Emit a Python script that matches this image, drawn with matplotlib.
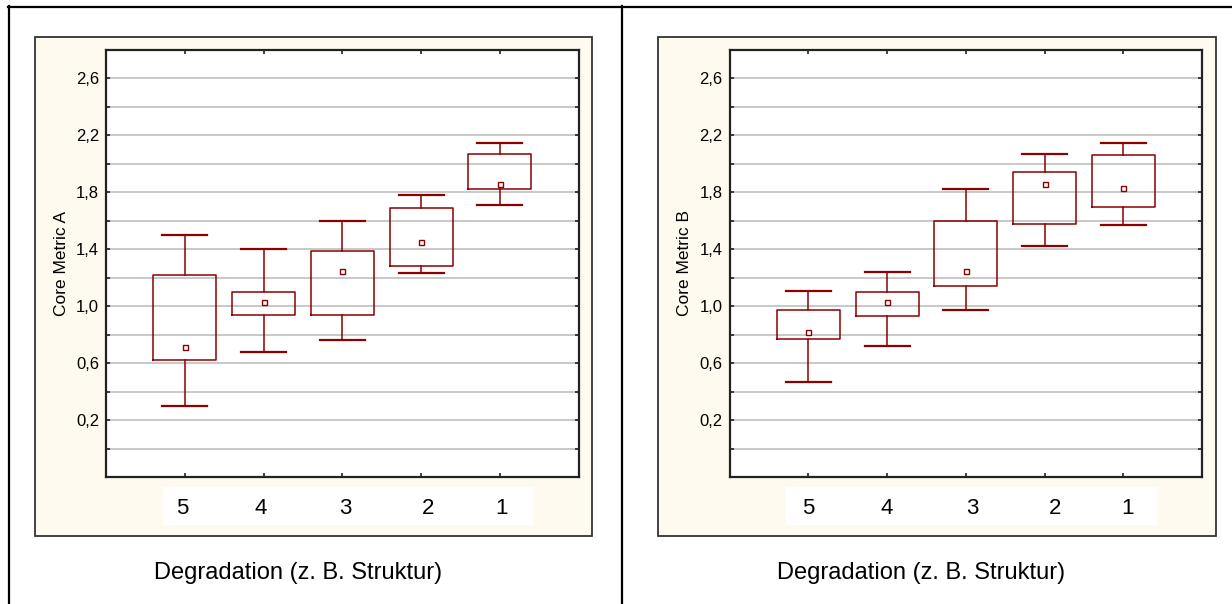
import matplotlib.pyplot as plt
import matplotlib.patches as mpatches
import matplotlib.lines as mlines
import matplotlib.transforms as mtransforms

# degradation classes, left to right
classes = ['5', '4', '3', '2', '1']

# Core Metric A: whisker low, box low, mean, box high, whisker high
a_whislo = [0.30, 0.68, 0.76, 1.23, 1.71]
a_q1 = [0.62, 0.94, 0.94, 1.28, 1.82]
a_mean = [0.71, 1.03, 1.25, 1.45, 1.86]
a_q3 = [1.22, 1.10, 1.39, 1.69, 2.07]
a_whishi = [1.50, 1.40, 1.60, 1.78, 2.15]

# Core Metric B
b_whislo = [0.47, 0.72, 0.97, 1.42, 1.57]
b_q1 = [0.77, 0.93, 1.14, 1.58, 1.70]
b_mean = [0.82, 1.03, 1.25, 1.86, 1.83]
b_q3 = [0.97, 1.10, 1.60, 1.94, 2.06]
b_whishi = [1.11, 1.24, 1.82, 2.07, 2.15]

W, H = 1232, 604
RED = '#8b0000'
CREAM = '#fffaef'

fig = plt.figure(figsize=(W / 100, H / 100), dpi=100)
fig.patch.set_facecolor('white')


def rect(x0, y0, x1, y1):
    # pixel box (top-left origin) -> figure fraction
    return [x0 / W, 1 - y1 / H, (x1 - x0) / W, (y1 - y0) / H]


def fy(y):
    return 1 - y / H


# outer table lines
for xs, ys in [([8, W], [6.5, 6.5]), ([8.5, 8.5], [6, H]), ([622, 622], [6, H])]:
    fig.add_artist(mlines.Line2D([x / W for x in xs], [fy(y) for y in ys],
                                 color='black', lw=1.6, transform=fig.transFigure))


def panel(x_off, whislo, q1, mean, q3, whishi, ylabel, lab_x):
    # cream frame around the plot
    r = rect(x_off + 34.5, 37, x_off + 592, 535.7)
    fig.add_artist(mpatches.Rectangle((r[0], r[1]), r[2], r[3], transform=fig.transFigure,
                                      facecolor=CREAM, edgecolor='#333333', lw=1.3, zorder=-2))
    # white strip behind the class labels
    r = rect(x_off + 162.7, 487, x_off + 533, 525)
    fig.add_artist(mpatches.Rectangle((r[0], r[1]), r[2], r[3], transform=fig.transFigure,
                                      facecolor='white', edgecolor='none', zorder=-1))

    ax = fig.add_axes(rect(x_off + 106, 50, x_off + 578.7, 477))
    ax.set_facecolor('white')
    stats = []
    for i in range(len(classes)):
        stats.append(dict(whislo=whislo[i], q1=q1[i], med=q1[i], mean=mean[i],
                          q3=q3[i], whishi=whishi[i], fliers=[], label=classes[i]))
    ax.bxp(stats, positions=range(1, 6), widths=0.8, capwidths=0.57,
           showmeans=True, showfliers=False,
           boxprops=dict(color=RED, lw=1.1),
           whiskerprops=dict(color=RED, lw=1.1),
           capprops=dict(color=RED, lw=1.6),
           medianprops=dict(lw=0),
           meanprops=dict(marker='s', markersize=3.6, markerfacecolor='white',
                          markeredgecolor=RED, markeredgewidth=1.0),
           zorder=3)

    ax.set_xlim(0, 6)
    ax.set_ylim(-0.2, 2.8)
    ax.set_xticks(range(1, 6))
    ax.set_xticklabels([])
    ax.set_yticks([0.2, 0.6, 1.0, 1.4, 1.8, 2.2, 2.6])
    ax.set_yticklabels(['0,2', '0,6', '1,0', '1,4', '1,8', '2,2', '2,6'], fontsize=12,
                       family='Liberation Sans')
    ax.set_yticks([0.0, 0.4, 0.8, 1.2, 1.6, 2.0, 2.4], minor=True)
    ax.tick_params(which='both', direction='in', length=3, width=1.2, color='#222222',
                   top=True, right=True, pad=5)
    ax.grid(True, which='both', axis='y', color='#c8c8c8', lw=1.4)
    ax.set_axisbelow(True)
    for s in ax.spines.values():
        s.set_color('#222222')
        s.set_linewidth(1.6)

    ax.set_ylabel(ylabel, fontsize=12.5, family='Liberation Sans', labelpad=5)

    trans = mtransforms.blended_transform_factory(ax.transData, fig.transFigure)
    for name, xp in zip(classes, lab_x):
        ax.text(xp, fy(508), name, transform=trans, ha='center', va='center',
                fontsize=16, family='Liberation Sans', clip_on=False)

    fig.text((x_off + 298) / W, fy(573), 'Degradation (z. B. Struktur)', ha='center',
             va='center', fontsize=17, family='Liberation Sans')
    return ax


panel(0, a_whislo, a_q1, a_mean, a_q3, a_whishi, 'Core Metric A',
      [0.97, 1.96, 3.04, 4.09, 5.02])
panel(623.5, b_whislo, b_q1, b_mean, b_q3, b_whishi, 'Core Metric B',
      [1.0, 2.0, 3.08, 4.13, 5.05])

fig.savefig('out.png', dpi=100)
